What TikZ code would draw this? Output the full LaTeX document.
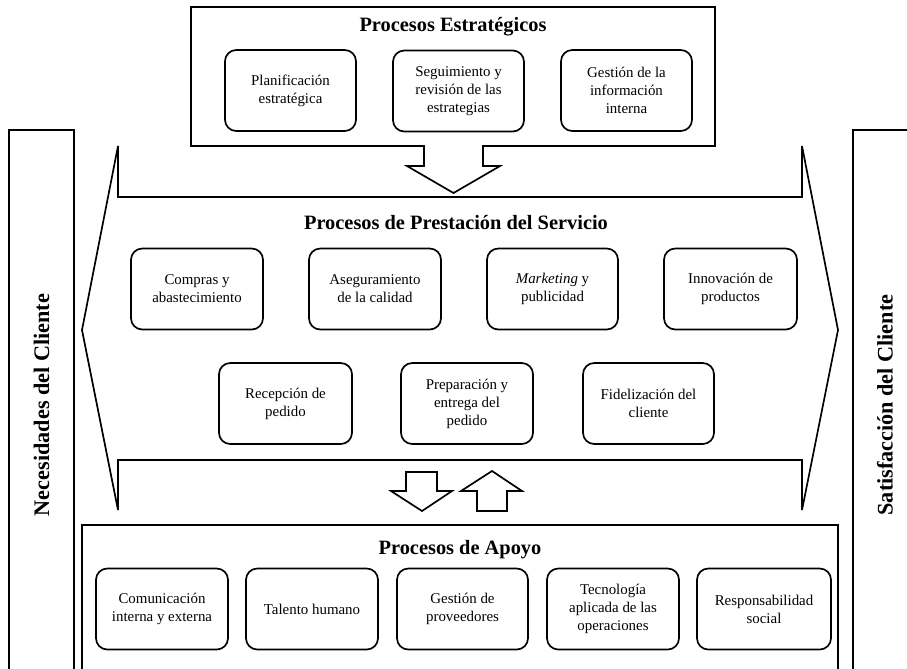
\documentclass[tikz,border=0pt]{standalone}
\usepackage{fontspec}
\setmainfont{Liberation Serif}
\begin{document}
\begin{tikzpicture}[x=0.25mm, y=-0.25mm, line width=1.2pt,
	caja/.style={draw, rounded corners=8pt, align=center, inner sep=0pt, minimum width=131*0.25mm, minimum height=81*0.25mm, font=\fontsize{10.6}{12.8}\selectfont},
	titulo/.style={font=\fontsize{14.5}{17}\selectfont\bfseries},
	lateral/.style={rotate=90, font=\fontsize{15.8}{18}\selectfont\bfseries}] %Inicio del dibujo y estilos
	\useasboundingbox (0,0) rectangle (907,668); %Marco
		%Columnas laterales
	\draw (9,675) -- (9,130) -- (74,130) -- (74,675);
	\draw (853,675) -- (853,130) -- (915,130);
	\node[lateral] (necesidades) at (41.5,405) {Necesidades del Cliente};
	\node[lateral] (satisfaccion) at (885,405) {Satisfacción del Cliente};
		%Procesos estrategicos
	\draw (191,7) -- (715,7) -- (715,146) -- (483,146) -- (483,166) -- (500,166) -- (453.5,193) -- (407,166) -- (424,166) -- (424,146) -- (191,146) -- cycle;
	\node[titulo] (estrategicos) at (453,27) {Procesos Estratégicos};
	\node[caja] (planificacion) at (290.5,90.5) {Planificación\\estratégica};
	\node[caja] (seguimiento) at (458.5,91) {Seguimiento y\\revisión de las\\estrategias};
	\node[caja] (informacion) at (626.5,90.5) {Gestión de la\\información\\interna};
		%Procesos de prestacion del servicio
	\draw (82,330) -- (118,146) -- (118,197) -- (802,197) -- (802,146) -- (838,330) -- (802,510) -- (802,460) -- (118,460) -- (118,510) -- cycle;
	\node[titulo] (prestacion) at (456,223) {Procesos de Prestación del Servicio};
	\node[caja, minimum width=132*0.25mm] (compras) at (197,289) {Compras y\\abastecimiento};
	\node[caja, minimum width=132*0.25mm] (calidad) at (375,289) {Aseguramiento\\de la calidad};
	\node[caja] (marketing) at (552.5,289) {\textit{Marketing} y\\publicidad};
	\node[caja, minimum width=133*0.25mm] (innovacion) at (730.5,289) {Innovación de\\productos};
	\node[caja, minimum width=133*0.25mm] (recepcion) at (285.5,403.5) {Recepción de\\pedido};
	\node[caja, minimum width=132*0.25mm] (preparacion) at (467,403.5) {Preparación y\\entrega del\\pedido};
	\node[caja] (fidelizacion) at (648.5,403.5) {Fidelización del\\cliente};
		%Flechas
	\draw (406,472) -- (437,472) -- (437,491) -- (452,491) -- (422,511) -- (391,491) -- (406,491) -- cycle; %Baja
	\draw (492,471) -- (522,491) -- (507,491) -- (507,511) -- (477,511) -- (477,491) -- (461,491) -- cycle; %Sube
		%Procesos de apoyo
	\draw (82,675) -- (82,525) -- (838,525) -- (838,675);
	\node[titulo] (apoyo) at (460,550) {Procesos de Apoyo};
	\node[caja, minimum width=132*0.25mm] (comunicacion) at (162,609) {Comunicación\\interna y externa};
	\node[caja, minimum width=132*0.25mm] (talento) at (312,609) {Talento humano};
	\node[caja] (proveedores) at (462.5,609) {Gestión de\\proveedores};
	\node[caja, minimum width=132*0.25mm] (tecnologia) at (613,609) {Tecnología\\aplicada de las\\operaciones};
	\node[caja, minimum width=134*0.25mm] (responsabilidad) at (764,609) {Responsabilidad\\social};
\end{tikzpicture}
\end{document}
